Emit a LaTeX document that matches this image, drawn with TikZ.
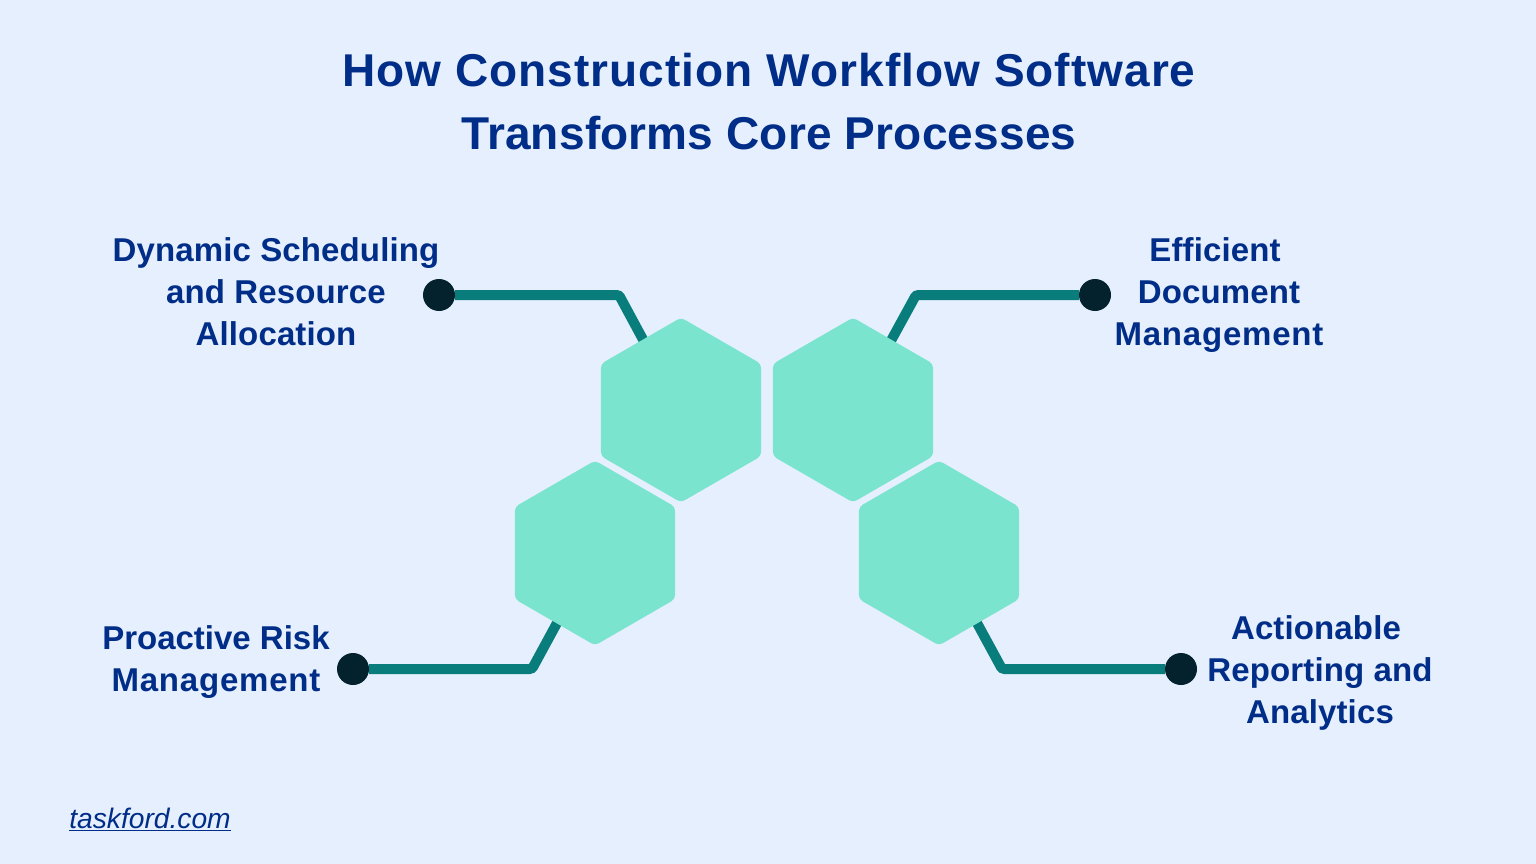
\documentclass[tikz,border=0pt]{standalone}
\usepackage{fontspec}
\usetikzlibrary{shapes.geometric,backgrounds}
\setmainfont{Liberation Sans}
\newfontfamily\labelfont[LetterSpace=0.4]{Liberation Sans}
\newfontfamily\tightlabelfont[LetterSpace=0]{Liberation Sans}
\newfontfamily\widelabelfont[LetterSpace=2.4]{Liberation Sans}
\newfontfamily\titlefont[LetterSpace=2.25]{Liberation Sans}
\newfontfamily\titlefontb[LetterSpace=0.4]{Liberation Sans}
\definecolor{bgc}{HTML}{E6EFFD}
\definecolor{hexc}{HTML}{7BE4CF}
\definecolor{linec}{HTML}{097D7C}
\definecolor{dotc}{HTML}{03222D}
\definecolor{textc}{HTML}{002D87}
\newcommand{\wideword}[1]{{\widelabelfont\bfseries\fontsize{33}{42}\selectfont #1}}
\newcommand{\tightword}[1]{{\tightlabelfont\bfseries\fontsize{33}{42}\selectfont #1}}
\tikzset{
  hexa/.style={regular polygon,regular polygon sides=6,shape border rotate=30,minimum size=184.8pt,inner sep=0pt,outer sep=0pt,fill=hexc,rounded corners=4pt},
  dotn/.style={circle,fill=dotc,minimum size=32pt,inner sep=0pt,outer sep=0pt},
  conn/.style={draw=linec,line width=10pt,rounded corners=2.5pt},
  lab/.style={align=center,text=textc,inner sep=0pt,font=\labelfont\bfseries\fontsize{33}{42}\selectfont},
  ttl/.style={align=center,text=textc,inner sep=0pt,font=\titlefont\bfseries\fontsize{46}{63}\selectfont}
}
\begin{document}
\begin{tikzpicture}[x=1pt,y=-1pt]
\useasboundingbox (0,0) rectangle (1536,864);
\begin{scope}[on background layer]
\fill[bgc] (0,0) rectangle (1536,864);
\end{scope}
\coordinate (b1) at (619,295);
\coordinate (b2) at (916,295);
\coordinate (b3) at (532,669);
\coordinate (b4) at (1002,669);
\coordinate (c1) at (681,410);
\coordinate (c2) at (853,410);
\coordinate (c3) at (595,553);
\coordinate (c4) at (939,553);
\node[dotn] (d1) at (439,295) {};
\node[dotn] (d2) at (1095,295) {};
\node[dotn] (d3) at (353,669) {};
\node[dotn] (d4) at (1181,669) {};
\begin{scope}[on background layer]
\draw[conn] (d1) -- (b1) -- (c1);
\draw[conn] (d2) -- (b2) -- (c2);
\draw[conn] (d3) -- (b3) -- (c3);
\draw[conn] (d4) -- (b4) -- (c4);
\end{scope}
\node[hexa] (h1) at (c1) {};
\node[hexa] (h2) at (c2) {};
\node[hexa] (h3) at (c3) {};
\node[hexa] (h4) at (c4) {};
\node[ttl] (title) at (769,102) {How Construction Workflow Software\\{\titlefontb\bfseries\fontsize{46}{63}\selectfont Transforms Core Processes}};
\node[lab] (l1) at (276,292) {Dynamic Scheduling\\and Resource\\Allocation};
\node[lab] (l2) at (1219,295) {Efficient\hspace*{8pt}\\Document\\\wideword{Management}};
\node[lab] (l3) at (216,662) {\tightword{Proactive Risk}\\\wideword{Management}};
\node[lab] (l4) at (1320,673) {Actionable\hspace*{8pt}\\Reporting and\\Analytics};
\node[text=textc,inner sep=0pt,font=\itshape\fontsize{28.2}{32}\selectfont] (site) at (150,819) {\underline{taskford.com}};
\end{tikzpicture}
\end{document}
